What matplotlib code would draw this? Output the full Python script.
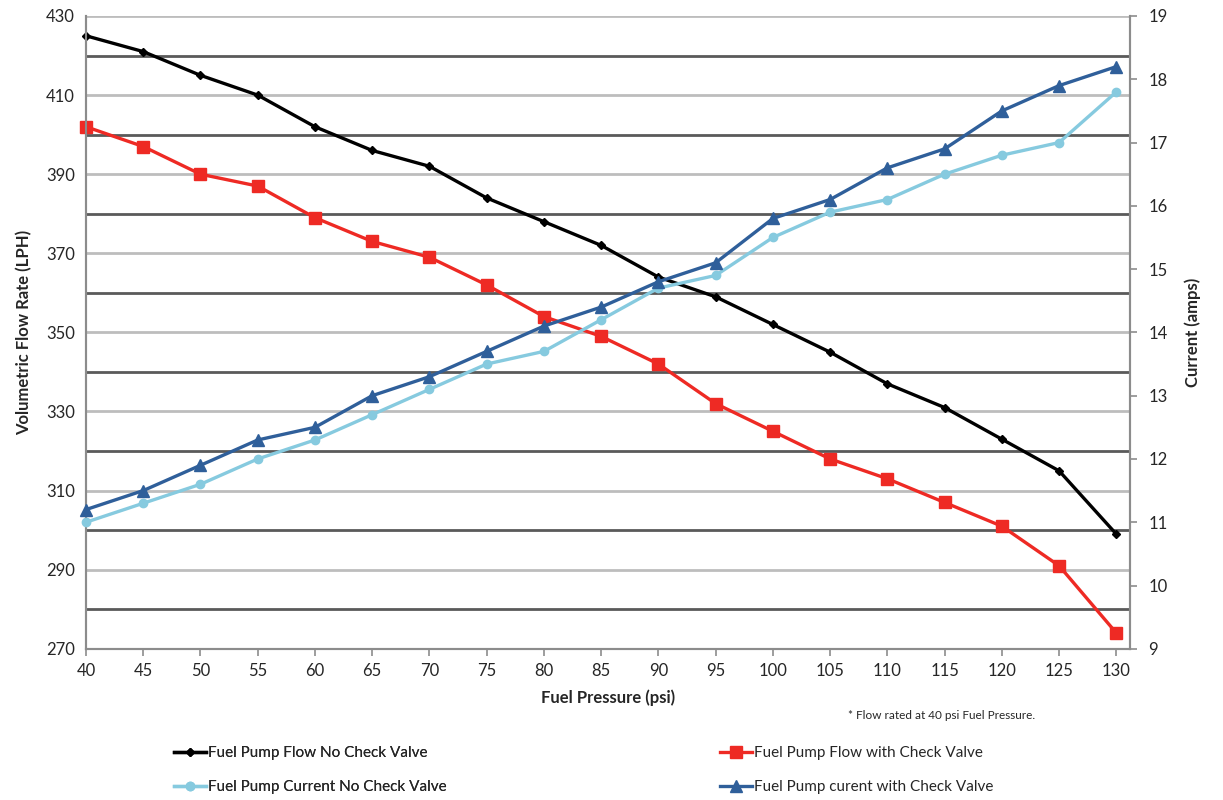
import matplotlib
matplotlib.use("Agg")
import matplotlib.pyplot as plt
from matplotlib.lines import Line2D

plt.rcParams["font.family"] = ["Lato", "DejaVu Sans"]

# fuel pressure (psi)
pressure = [40, 45, 50, 55, 60, 65, 70, 75, 80, 85, 90, 95, 100, 105, 110, 115, 120, 125, 130]

# flow rate (LPH), left axis
flow_no_check = [425, 421, 415, 410, 402, 396, 392, 384, 378, 372, 364, 359, 352, 345, 337, 331, 323, 315, 299]
flow_check = [402, 397, 390, 387, 379, 373, 369, 362, 354, 349, 342, 332, 325, 318, 313, 307, 301, 291, 274]

# current (amps), right axis
current_no_check = [11.0, 11.3, 11.6, 12.0, 12.3, 12.7, 13.1, 13.5, 13.7, 14.2, 14.7, 14.9, 15.5, 15.9, 16.1, 16.5, 16.8, 17.0, 17.8]
current_check = [11.2, 11.5, 11.9, 12.3, 12.5, 13.0, 13.3, 13.7, 14.1, 14.4, 14.8, 15.1, 15.8, 16.1, 16.6, 16.9, 17.5, 17.9, 18.2]

left_ticks = [270, 290, 310, 330, 350, 370, 390, 410, 430]
dark_grid = [280, 300, 320, 340, 360, 380, 400, 420]
right_ticks = list(range(9, 20))

labels = [
    "Fuel Pump Flow No Check Valve",
    "Fuel Pump Current No Check Valve",
    "Fuel Pump Flow with Check Valve",
    "Fuel Pump curent with Check Valve",
]

BLACK = "#000000"
RED = "#ee2a24"
LIGHT = "#86cadf"
DARK = "#2f5f9a"
AXIS_GREY = "#8c8c8c"
TEXT = "#262626"

fig = plt.figure(figsize=(12.23, 8), dpi=100)
ax = fig.add_axes([0.0703, 0.189, 0.8537, 0.791])
ax2 = ax.twinx()

ax.set_xlim(40, 131.2)
ax.set_ylim(270, 430)
ax2.set_ylim(9, 19)

# horizontal grid: light at labelled values, dark halfway between
for v in left_ticks[1:]:
    ax.axhline(v, color="#bdbdbd", lw=2.0, zorder=0)
for v in dark_grid:
    ax.axhline(v, color="#5a5a5a", lw=2.0, zorder=0)

ax.plot(pressure, flow_no_check, color=BLACK, lw=2.4, marker="D", ms=4.5, zorder=3, clip_on=False)
ax.plot(pressure, flow_check, color=RED, lw=2.4, marker="s", ms=8, zorder=3, clip_on=False)
ax2.plot(pressure, current_no_check, color=LIGHT, lw=2.4, marker="o", ms=6, zorder=3, clip_on=False)
ax2.plot(pressure, current_check, color=DARK, lw=2.4, marker="^", ms=8, zorder=3, clip_on=False)

ax.set_yticks(left_ticks)
ax.set_xticks(pressure)
ax2.set_yticks(right_ticks)

for a in (ax, ax2):
    for s in a.spines.values():
        s.set_color(AXIS_GREY)
        s.set_linewidth(1.5)
ax.spines["top"].set_visible(False)
ax2.spines["top"].set_visible(False)

ax.tick_params(axis="y", length=0, labelsize=12, colors=TEXT, pad=8)
ax.tick_params(axis="x", length=5, width=1.2, color=AXIS_GREY, labelsize=12, labelcolor=TEXT, pad=5)
ax2.tick_params(axis="y", length=5, width=1.2, color=AXIS_GREY, labelsize=12, labelcolor=TEXT, pad=8)

ax.set_ylabel("Volumetric Flow Rate (LPH)", fontsize=12, fontweight="bold", color=TEXT, labelpad=10)
ax2.set_ylabel("Current (amps)", fontsize=12, fontweight="bold", color=TEXT, labelpad=12)
ax.set_xlabel("Fuel Pressure (psi)", fontsize=12, fontweight="bold", color=TEXT, labelpad=8)

fig.text(0.770, 0.106, "* Flow rated at 40 psi Fuel Pressure.", fontsize=8.5,
         color=TEXT, ha="center", va="center")

handles = [
    Line2D([], [], color=BLACK, lw=2.4, marker="D", ms=4.5),
    Line2D([], [], color=LIGHT, lw=2.4, marker="o", ms=6),
    Line2D([], [], color=RED, lw=2.4, marker="s", ms=8),
    Line2D([], [], color=DARK, lw=2.4, marker="^", ms=8),
]
legend_opts = dict(loc="center left", frameon=False, fontsize=11, handlelength=2.1,
                   handletextpad=0.15, labelspacing=1.3, borderpad=0, labelcolor=TEXT)
leg1 = fig.legend(handles[:2], labels[:2], bbox_to_anchor=(166 / 1223, 0.037), **legend_opts)
fig.add_artist(leg1)
fig.legend(handles[2:], labels[2:], bbox_to_anchor=(712 / 1223, 0.037), **legend_opts)

fig.savefig("out.png", dpi=100)
